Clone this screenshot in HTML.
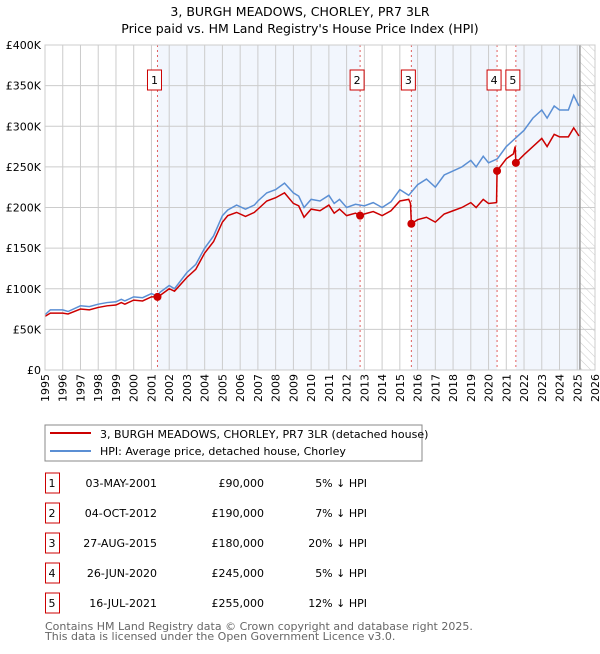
<!DOCTYPE html>
<html><head><meta charset="utf-8"><style>
body{margin:0;background:#fff;font-family:"DejaVu Sans","Liberation Sans",sans-serif;}
svg text{font-family:"DejaVu Sans","Liberation Sans",sans-serif;}
</style></head><body>
<svg id="c" width="600" height="650" xmlns="http://www.w3.org/2000/svg">
<defs><pattern id="hatch" width="6" height="6" patternUnits="userSpaceOnUse" patternTransform="rotate(-45)"><line x1="0" y1="0" x2="0" y2="6" stroke="#ccc" stroke-width="1"/></pattern></defs>
<text x="300" y="16" text-anchor="middle" font-size="12.5">3, BURGH MEADOWS, CHORLEY, PR7 3LR</text>
<text x="300" y="33" text-anchor="middle" font-size="12.5">Price paid vs. HM Land Registry's House Price Index (HPI)</text>
<g id="plot"></g>
<rect x="45" y="425" width="377" height="36" fill="#fff" stroke="#888"/>
<line x1="50" y1="433" x2="91" y2="433" stroke="#cc0000" stroke-width="2"/>
<text x="100" y="438" font-size="11">3, BURGH MEADOWS, CHORLEY, PR7 3LR (detached house)</text>
<line x1="50" y1="451" x2="91" y2="451" stroke="#5b8fd4" stroke-width="2"/>
<text x="100" y="455" font-size="11">HPI: Average price, detached house, Chorley</text>
<g id="table"></g>
<text x="45" y="630" font-size="11" fill="#666">Contains HM Land Registry data © Crown copyright and database right 2025.</text>
<text x="45" y="640" font-size="11" fill="#666">This data is licensed under the Open Government Licence v3.0.</text>
</svg>
<script>
const hpiYears=[1995,1995.3,1996,1996.3,1997,1997.5,1998,1998.5,1999,1999.3,1999.5,2000,2000.5,2001,2001.3,2001.5,2002,2002.3,2003,2003.5,2004,2004.5,2005,2005.3,2005.8,2006.3,2006.8,2007,2007.5,2008,2008.5,2009,2009.3,2009.6,2010,2010.5,2011,2011.3,2011.6,2012,2012.5,2013,2013.5,2014,2014.5,2015,2015.5,2016,2016.5,2017,2017.5,2018,2018.5,2019,2019.3,2019.7,2020,2020.5,2021,2021.5,2022,2022.5,2023,2023.3,2023.7,2024,2024.5,2024.8,2025.1];
const hpiValues=[68,74,74,72,79,78,81,83,84,87,85,90,89,94,91,96,104,100,120,130,150,165,190,197,203,198,203,208,218,222,230,218,214,200,210,208,215,205,210,200,204,202,206,200,207,222,215,228,235,225,240,245,250,258,250,263,255,260,275,285,295,310,320,310,325,320,320,338,325];
const propYears=[1995,1995.3,1996,1996.3,1997,1997.5,1998,1998.5,1999,1999.3,1999.5,2000,2000.5,2001,2001.34,2001.5,2002,2002.3,2003,2003.5,2004,2004.5,2005,2005.3,2005.8,2006.3,2006.8,2007,2007.5,2008,2008.5,2009,2009.3,2009.6,2010,2010.5,2011,2011.3,2011.6,2012,2012.5,2012.76,2013,2013.5,2014,2014.5,2015,2015.5,2015.6,2015.65,2016,2016.5,2017,2017.5,2018,2018.5,2019,2019.3,2019.7,2020,2020.45,2020.48,2021,2021.4,2021.5,2021.54,2022,2022.5,2023,2023.3,2023.7,2024,2024.5,2024.8,2025.1];
const propValues=[66,70,70,69,75,74,77,79,80,83,81,86,85,90,90,92,100,97,114,124,144,158,182,190,194,189,194,198,208,212,218,205,202,188,198,196,203,193,198,190,193,190,192,195,190,196,208,210,205,180,185,188,182,192,196,200,206,200,210,205,206,245,260,266,275,255,265,275,285,275,290,287,287,298,288];
const saleYears=[2001.34,2012.76,2015.65,2020.48,2021.54];
const salePrices=[90,190,180,245,255];
const saleLabels=["1","2","3","4","5"];
const saleDates=["03-MAY-2001","04-OCT-2012","27-AUG-2015","26-JUN-2020","16-JUL-2021"];
const salePriceText=["£90,000","£190,000","£180,000","£245,000","£255,000"];
const saleDiffs=["5% ↓ HPI","7% ↓ HPI","20% ↓ HPI","5% ↓ HPI","12% ↓ HPI"];
const yTicks=[0,50,100,150,200,250,300,350,400];
const yTickLabels=["£0","£50K","£100K","£150K","£200K","£250K","£300K","£350K","£400K"];
const xTicks=[1995,1996,1997,1998,1999,2000,2001,2002,2003,2004,2005,2006,2007,2008,2009,2010,2011,2012,2013,2014,2015,2016,2017,2018,2019,2020,2021,2022,2023,2024,2025,2026];
const dataEnd=2025.15;
const X0=45,X1=595,Y0=370,Y1=45;
const x=v=>X0+(v-1995)/(2026-1995)*(X1-X0);
const y=v=>Y0-v/400*(Y0-Y1);
const NS="http://www.w3.org/2000/svg";
const plot=document.getElementById('plot');
function mk(tag,attrs,parent){const e=document.createElementNS(NS,tag);for(const k in attrs)e.setAttribute(k,attrs[k]);(parent||plot).appendChild(e);return e;}
let r=mk('rect',{x:X0,y:Y1,width:X1-X0,height:Y0-Y1,fill:'#fff'});


const bands=[[saleYears[0],saleYears[1]],[saleYears[2],saleYears[3]],[saleYears[4],dataEnd]];
bands.forEach(b=>{const e=mk('rect',{x:x(b[0]),y:Y1,width:x(b[1])-x(b[0]),height:Y0-Y1,fill:'#f2f6fd'});

});
r=mk('rect',{x:x(dataEnd),y:Y1,width:X1-x(dataEnd),height:Y0-Y1,fill:'url(#hatch)'});


xTicks.forEach(t=>{const l=mk('line',{x1:x(t),x2:x(t),y1:Y1,y2:Y0,stroke:'#ccc','stroke-width':1});


const tx=mk('text',{x:0,y:0,'font-size':11,'text-anchor':'end',transform:`translate(${x(t)+4},${Y0+4}) rotate(-90)`});
tx.textContent=t;

});
yTicks.forEach((t,i)=>{const l=mk('line',{x1:X0,x2:X1,y1:y(t),y2:y(t),stroke:'#ccc','stroke-width':1});


const tx=mk('text',{x:X0-4,y:y(t)+4,'font-size':11,'text-anchor':'end'});
tx.textContent=yTickLabels[i];

});
r=mk('line',{x1:x(dataEnd),x2:x(dataEnd),y1:Y1,y2:Y0,stroke:'#999','stroke-width':1.5});


saleYears.forEach((s,i)=>{const l=mk('line',{x1:x(s),x2:x(s),y1:Y1,y2:Y0,stroke:'#e06060','stroke-width':1,'stroke-dasharray':'2,3'});

});
const hp=mk('polyline',{points:hpiYears.map((v,i)=>x(v)+','+y(hpiValues[i])).join(' '),fill:'none',stroke:'#5b8fd4','stroke-width':1.5});


const pp=mk('polyline',{points:propYears.map((v,i)=>x(v)+','+y(propValues[i])).join(' '),fill:'none',stroke:'#cc0000','stroke-width':1.5});


saleYears.forEach((s,i)=>{const c=mk('circle',{cx:x(s),cy:y(salePrices[i]),r:4,fill:'#cc0000'});


const bx=mk('rect',{x:x(s)-10,y:70,width:14,height:20,fill:'#fff',stroke:'#cc0000'});


const t=mk('text',{x:x(s)-3,y:84,'font-size':11,'text-anchor':'middle'});
t.textContent=saleLabels[i];

});
r=mk('rect',{x:X0,y:Y1,width:X1-X0,height:Y0-Y1,fill:'none',stroke:'#ccc'});


const tb=document.getElementById('table');
saleLabels.forEach((l,i)=>{const yy=473+i*30;
const b=mk('rect',{x:45.5,y:yy,width:14,height:20,fill:'#fff',stroke:'#cc0000'},tb);


const cols=[[l,52,'middle','table-row-number'],[saleDates[i],157,'end','table-row-date'],[salePriceText[i],264,'end','table-row-price'],[saleDiffs[i],367,'end','table-row-hpi-diff']];
cols.forEach(c=>{const t=mk('text',{x:c[1],y:yy+14,'font-size':11,'text-anchor':c[2]},tb);
t.textContent=c[0];

});});
</script>
</body></html>
